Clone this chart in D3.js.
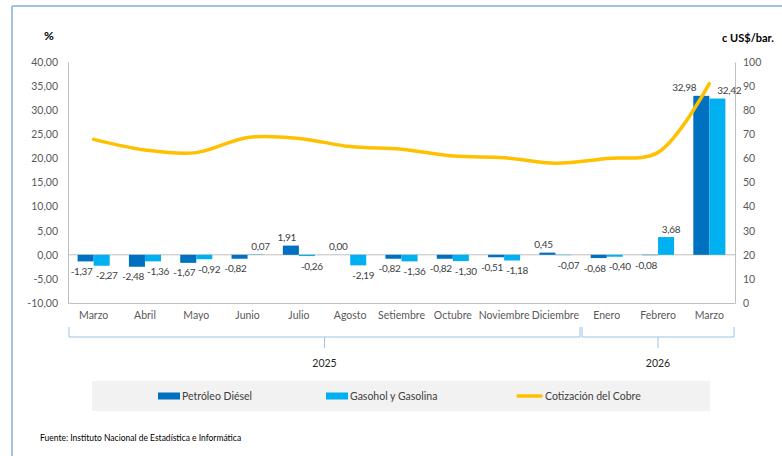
<!DOCTYPE html>
<html>
<head>
<meta charset="utf-8">
<script src="https://cdn.jsdelivr.net/npm/d3@7"></script>
<style>
  body { margin: 0; background: #fff; }
  text { font-family: Lato, "Open Sans", sans-serif; }
</style>
</head>
<body>
<div id="chart"></div>
<script>
var meses = ["Marzo", "Abril", "Mayo", "Junio", "Julio", "Agosto", "Setiembre", "Octubre",
    "Noviembre", "Diciembre", "Enero", "Febrero", "Marzo "];
var diesel = [-1.37, -2.48, -1.67, -0.82, 1.91, 0.00, -0.82, -0.82, -0.51, 0.45, -0.68, -0.08, 32.98];
var gasolina = [-2.27, -1.36, -0.92, 0.07, -0.26, -2.19, -1.36, -1.30, -1.18, -0.07, -0.40, 3.68, 32.42];
var cobre = [67.9, 63.5, 62.4, 68.7, 68.3, 64.9, 63.8, 61.0, 60.3, 58.0, 60.0, 62.5, 91.0];
var leftTicks = [-10, -5, 0, 5, 10, 15, 20, 25, 30, 35, 40];
var rightTicks = [0, 10, 20, 30, 40, 50, 60, 70, 80, 90, 100];
var anios = [{label: "2025", desde: 0, hasta: 9}, {label: "2026", desde: 10, hasta: 12}];
var series = ["Petróleo Diésel", "Gasohol y Gasolina"];
var colores = ["#0070C0", "#00B0F0"];

var W = 782, H = 456;
var margin = {top: 62, left: 68, right: 47},
    width = W - margin.left - margin.right,
    height = 241;

var svg = d3.select("#chart").append("svg")
    .attr("width", W)
    .attr("height", H);

// borde azul del recuadro
svg.append("line").attr("x1", 12).attr("x2", 12).attr("y1", 6).attr("y2", H)
    .attr("stroke", "#9DC3E6").attr("stroke-width", 2);
svg.append("line").attr("x1", 12).attr("x2", W).attr("y1", 6).attr("y2", 6)
    .attr("stroke", "#9DC3E6").attr("stroke-width", 2);

var g = svg.append("g")
    .attr("transform", "translate(" + margin.left + "," + margin.top + ")");

var x0 = d3.scaleBand().domain(meses).range([0, width]);
var x1 = d3.scaleBand().domain(series).range([0, x0.bandwidth()]).paddingOuter(0.6);
var y = d3.scaleLinear().domain([-10, 40]).range([height, 0]);
var y2 = d3.scaleLinear().domain([0, 100]).range([height, 0]);

var locale = d3.formatLocale({decimal: ",", thousands: ".", grouping: [3], currency: ["", ""], minus: "-"});
var fmt = locale.format(".2f");

// ejes
var yAxis = g.append("g")
    .call(d3.axisLeft(y).tickValues(leftTicks).tickSize(0).tickPadding(10).tickFormat(fmt));
yAxis.select(".domain").attr("stroke", "#BFBFBF");
yAxis.selectAll("text").attr("fill", "#595959").style("font-size", "10.5px");

var yAxis2 = g.append("g")
    .attr("transform", "translate(" + width + ",0)")
    .call(d3.axisRight(y2).tickValues(rightTicks).tickSize(0).tickPadding(8));
yAxis2.select(".domain").attr("stroke", "#BFBFBF");
yAxis2.selectAll("text").attr("fill", "#595959").style("font-size", "10.5px");

var xAxis = g.append("g")
    .attr("transform", "translate(0," + height + ")")
    .call(d3.axisBottom(x0).tickSize(0).tickPadding(9));
xAxis.select(".domain").attr("stroke", "#BFBFBF");
xAxis.selectAll("text").attr("fill", "#595959").style("font-size", "10.5px");

g.append("line")
    .attr("x1", 0).attr("x2", width)
    .attr("y1", y(0)).attr("y2", y(0))
    .attr("stroke", "#BFBFBF");

// barras
var filas = meses.map(function (m, i) {
    return {mes: m, valores: [
        {name: series[0], value: diesel[i], k: 0},
        {name: series[1], value: gasolina[i], k: 1}
    ]};
});

var grupo = g.selectAll(".grupo")
    .data(filas)
    .enter().append("g")
    .attr("class", "grupo")
    .attr("transform", function (d) { return "translate(" + x0(d.mes) + ",0)"; });

grupo.selectAll("rect")
    .data(function (d) { return d.valores; })
    .enter().append("rect")
    .attr("x", function (d) { return x1(d.name); })
    .attr("width", x1.bandwidth())
    .attr("y", function (d) { return y(Math.max(0, d.value)); })
    .attr("height", function (d) { return Math.abs(y(d.value) - y(0)); })
    .attr("fill", function (d) { return colores[d.k]; });

// etiquetas: se abren un poco a los lados para que no choquen
grupo.selectAll(".etq")
    .data(function (d) { return d.valores; })
    .enter().append("text")
    .attr("class", "etq")
    .attr("x", function (d) {
        var c = x1(d.name) + x1.bandwidth() / 2;
        if (d.value > 10) c += d.k === 0 ? -17 : 12;
        else c += d.k === 0 ? -4 : 5;
        return c;
    })
    .attr("y", function (d) {
        return d.value >= 0 ? y(d.value) - 8 : y(d.value) + 10;
    })
    .attr("dy", ".35em")
    .attr("text-anchor", "middle")
    .attr("fill", "#404040")
    .style("font-size", "10px")
    .style("letter-spacing", "-0.3px")
    .text(function (d) { return fmt(d.value); });

// línea del cobre
var linea = d3.line()
    .x(function (d, i) { return x0(meses[i]) + x0.bandwidth() / 2; })
    .y(function (d) { return y2(d); })
    .curve(d3.curveCatmullRom.alpha(0.5));

g.append("path")
    .datum(cobre)
    .attr("fill", "none")
    .attr("stroke", "#FFC000")
    .attr("stroke-width", 3.5)
    .attr("stroke-linecap", "round")
    .attr("d", linea);

// títulos de ejes
svg.append("text").attr("x", 49).attr("y", 40).attr("text-anchor", "middle")
    .style("font-size", "12px").style("font-weight", "bold").text("%");
svg.append("text").attr("x", 748).attr("y", 42).attr("text-anchor", "middle")
    .style("font-size", "11px").style("font-weight", "bold").text("c US$/bar.");

// llaves de años
var llaves = g.selectAll(".anio")
    .data(anios)
    .enter().append("g")
    .attr("class", "anio");

llaves.append("path")
    .attr("fill", "none")
    .attr("stroke", "#9DC3E6")
    .attr("d", function (d) {
        var a = x0(meses[d.desde]) + 1, b = x0(meses[d.hasta]) + x0.bandwidth() - 1;
        var m = (a + b) / 2;
        return "M" + a + "," + (height + 24) + "V" + (height + 34) + "H" + b + "V" + (height + 24)
            + "M" + m + "," + (height + 34) + "V" + (height + 45);
    });

llaves.append("text")
    .attr("x", function (d) { return (x0(meses[d.desde]) + x0(meses[d.hasta]) + x0.bandwidth()) / 2; })
    .attr("y", height + 60)
    .attr("dy", ".35em")
    .attr("text-anchor", "middle")
    .attr("fill", "#262626")
    .style("font-size", "10.5px")
    .text(function (d) { return d.label; });

// leyenda
svg.append("rect").attr("x", 92).attr("y", 381).attr("width", 618).attr("height", 30)
    .attr("fill", "#F2F2F2");

var leyenda = [
    {name: series[0], color: colores[0], x: 158, tipo: "rect"},
    {name: series[1], color: colores[1], x: 326, tipo: "rect"},
    {name: "Cotización del Cobre", color: "#FFC000", x: 517, tipo: "line"}
];
var item = svg.selectAll(".leg")
    .data(leyenda)
    .enter().append("g")
    .attr("class", "leg")
    .attr("transform", function (d) { return "translate(" + d.x + ",396)"; });

item.filter(function (d) { return d.tipo === "rect"; })
    .append("rect").attr("x", 0).attr("y", -3.5).attr("width", 22).attr("height", 7)
    .attr("fill", function (d) { return d.color; });
item.filter(function (d) { return d.tipo === "line"; })
    .append("line").attr("x1", 1).attr("x2", 24).attr("y1", 0).attr("y2", 0)
    .attr("stroke", function (d) { return d.color; }).attr("stroke-width", 3.5)
    .attr("stroke-linecap", "round");
item.append("text")
    .attr("x", function (d) { return d.tipo === "rect" ? 24 : 28; })
    .attr("dy", ".35em")
    .attr("fill", "#404040")
    .style("font-size", "10.5px")
    .text(function (d) { return d.name; });

svg.append("text").attr("x", 40).attr("y", 441)
    .attr("fill", "#000")
    .style("font-size", "8.5px")
    .text("Fuente: Instituto Nacional de Estadística e Informática");
</script>
</body>
</html>
